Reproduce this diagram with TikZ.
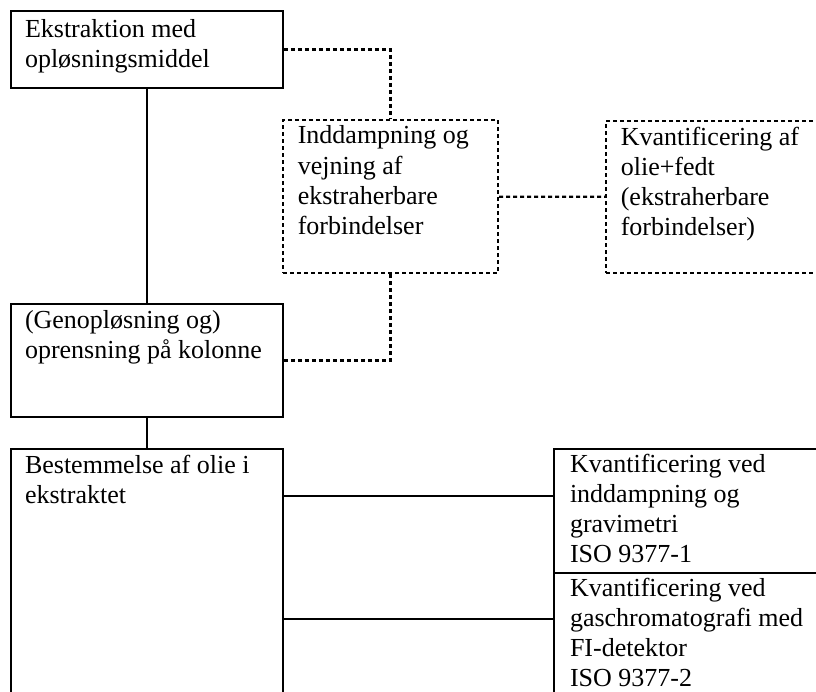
\documentclass[tikz,border=0pt]{standalone}
\usepackage{fontspec}
\setmainfont{Liberation Serif}
\usepackage{tikz}
\usetikzlibrary{shapes, arrows.meta, positioning}

\begin{document}
\begin{tikzpicture}[x=1pt, y=-1pt, line width=1.8pt,
    box/.style={draw, rectangle, inner sep=0pt},
    dbox/.style={box, line width=2.2pt, dash pattern=on 4pt off 3pt},
    dline/.style={line width=2.2pt, dash pattern=on 4pt off 3pt},
    txt/.style={anchor=north west, inner sep=0pt, align=left, font=\fontsize{26}{30.2}\selectfont}]
    \useasboundingbox (0,0) rectangle (816,691);
    \clip (0,0) rectangle (816,691);

    % venstre kolonne - hovedforløbet
    \node[box, minimum width=272pt, minimum height=77pt] (ekstr) at (147,49.5) {};
    \node[txt] (ekstr-t) at ([shift={(14pt,-8pt)}]ekstr.north west) {Ekstraktion med\\opløsningsmiddel};

    \node[box, minimum width=272pt, minimum height=113pt] (genopl) at (147,360.5) {};
    \node[txt] (genopl-t) at ([shift={(14pt,-6pt)}]genopl.north west) {(Genopløsning og)\\oprensning på kolonne};

    \node[box, minimum width=272pt, minimum height=291pt] (bestem) at (147,594.5) {};
    \node[txt] (bestem-t) at ([shift={(14pt,-6pt)}]bestem.north west) {Bestemmelse af olie i\\ekstraktet};

    \node[dbox, minimum width=215pt, minimum height=153pt] (inddamp) at (390.5,196.5) {};
    \node[txt] (inddamp-t) at ([shift={(15pt,-6pt)}]inddamp.north west) {Inddampning og\\vejning af\\ekstraherbare\\forbindelser};

    \node[dbox, minimum width=234pt, minimum height=152pt] (fedt) at (723,197) {};
    \node[txt] (fedt-t) at ([shift={(15pt,-6pt)}]fedt.north west) {Kvantificering af\\olie+fedt\\(ekstraherbare\\forbindelser)};

    \node[box, minimum width=286pt, minimum height=124pt] (gravi) at (697,511) {};
    \node[txt] (gravi-t) at ([shift={(16pt,-5pt)}]gravi.north west) {Kvantificering ved\\inddampning og\\gravimetri\\ISO 9377-1};

    \node[box, minimum width=286pt, minimum height=167pt] (gaskrom) at (697,656.5) {};
    \node[txt] (gaskrom-t) at ([shift={(16pt,-5pt)}]gaskrom.north west) {Kvantificering ved\\gaschromatografi med\\FI-detektor\\ISO 9377-2};

    \draw (ekstr) -- (genopl);
    \draw (genopl) -- (bestem);
    \draw[dline] (ekstr.east) -| (inddamp.north);
    \draw[dline] (genopl.east) -| (inddamp.south);
    \draw[dline] (inddamp) -- (fedt);
    \draw ([yshift=-48pt]bestem.east |- gravi.north) -- ([yshift=-48pt]gravi.north west);
    \draw ([yshift=-47pt]bestem.east |- gaskrom.north) -- ([yshift=-47pt]gaskrom.north west);
\end{tikzpicture}
\end{document}
